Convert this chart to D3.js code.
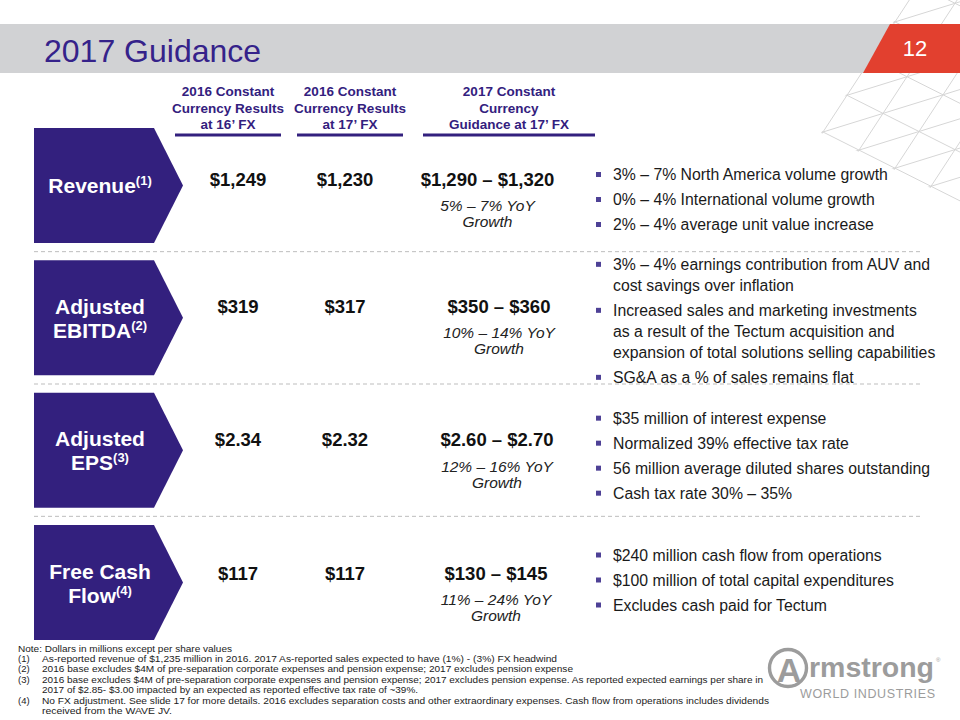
<!DOCTYPE html>
<html><head><meta charset="utf-8">
<script src="https://cdn.jsdelivr.net/npm/d3@7"></script>
<style>
body{margin:0;background:#fff}
svg{display:block}
text{font-family:"Liberation Sans",Arial,Helvetica,sans-serif}
</style>
</head><body>
<svg id="c" width="960" height="720"></svg>
<script>
// ---------- DATA ----------
const title = "2017 Guidance";
const slideNumber = "12";
const metrics = ["Revenue", "Adjusted EBITDA", "Adjusted EPS", "Free Cash Flow"];
const labelLines = [["Revenue"], ["Adjusted", "EBITDA"], ["Adjusted", "EPS"], ["Free Cash", "Flow"]];
const labelRefs = ["(1)", "(2)", "(3)", "(4)"];
const columnKeys = ["at16", "at17", "guide17"];
const columnHeaders = [
  ["2016 Constant", "Currency Results", "at 16’ FX"],
  ["2016 Constant", "Currency Results", "at 17’ FX"],
  ["2017 Constant", "Currency", "Guidance at 17’ FX"]
];
const results2016at16FX = ["$1,249", "$319", "$2.34", "$117"];
const results2016at17FX = ["$1,230", "$317", "$2.32", "$117"];
const guidanceLow = ["$1,290", "$350", "$2.60", "$130"];
const guidanceHigh = ["$1,320", "$360", "$2.70", "$145"];
const growthLow = ["5%", "10%", "12%", "11%"];
const growthHigh = ["7%", "14%", "16%", "24%"];
const bullets = [
  [["3% – 7% North America volume growth"],
   ["0% – 4% International volume growth"],
   ["2% – 4% average unit value increase"]],
  [["3% – 4% earnings contribution from AUV and", "cost savings over inflation"],
   ["Increased sales and marketing investments", "as a result of the Tectum acquisition and", "expansion of total solutions selling capabilities"],
   ["SG&A as a % of sales remains flat"]],
  [["$35 million of interest expense"],
   ["Normalized 39% effective tax rate"],
   ["56 million average diluted shares outstanding"],
   ["Cash tax rate 30% – 35%"]],
  [["$240 million cash flow from operations"],
   ["$100 million of total capital expenditures"],
   ["Excludes cash paid for Tectum"]]
];
const noteText = "Note: Dollars in millions except per share values";
const footnoteNums = ["(1)", "(2)", "(3)", "", "(4)", ""];
const footnoteLines = [
  "As-reported revenue of $1,235 million in 2016. 2017 As-reported sales expected to have (1%) - (3%) FX headwind",
  "2016 base excludes $4M of pre-separation corporate expenses and pension expense; 2017 excludes pension expense",
  "2016 base excludes $4M of pre-separation corporate expenses and pension expense; 2017 excludes pension expense. As reported expected earnings per share in",
  "2017 of $2.85- $3.00 impacted by an expected as reported effective tax rate of ~39%.",
  "No FX adjustment. See slide 17 for more details. 2016 excludes separation costs and other extraordinary expenses. Cash flow from operations includes dividends",
  "received from the WAVE JV."
];
const logoWord = "rmstrong";
const logoSub = "WORLD INDUSTRIES";

// ---------- LAYOUT ----------
const PURPLE = "#33207E";
const TITLE_PURPLE = "#35228A";
const svg = d3.select("#c");
const defs = svg.append("defs");

// decorative lattice (top-right)
defs.append("clipPath").attr("id", "lc").append("polygon")
  .attr("points", "821,133 909,-2 962,-2 962,204");
const lat = svg.append("g").attr("clip-path", "url(#lc)")
  .attr("stroke", "#d6d6d6").attr("stroke-width", 1).attr("fill", "none");
const P0 = [823, 132], u = [60, -18.6], v = [24, -36.7], w = [u[0] - v[0], u[1] - v[1]];
const fam = [];
d3.range(-8, 9).forEach(k => {
  fam.push({p: [P0[0] + k * v[0], P0[1] + k * v[1]], d: u});
  fam.push({p: [P0[0] + k * u[0], P0[1] + k * u[1]], d: v});
  fam.push({p: [P0[0] + k * u[0], P0[1] + k * u[1]], d: w});
});
lat.selectAll("line").data(fam).join("line")
  .attr("x1", f => f.p[0] - f.d[0] * 12).attr("y1", f => f.p[1] - f.d[1] * 12)
  .attr("x2", f => f.p[0] + f.d[0] * 12).attr("y2", f => f.p[1] + f.d[1] * 12);

// title band
svg.append("rect").attr("x", 0).attr("y", 24).attr("width", 900).attr("height", 49).attr("fill", "#D1D2D4");
svg.append("polygon").attr("points", "890,24 960,24 960,73 863,73").attr("fill", "#E2402F");
svg.append("text").attr("x", 915).attr("y", 56).attr("text-anchor", "middle")
  .attr("font-size", 22).attr("fill", "#fff").text(slideNumber);
svg.append("text").attr("x", 44).attr("y", 62).attr("font-size", 32)
  .attr("fill", TITLE_PURPLE).text(title);

// scales
const y = d3.scaleBand().domain(metrics).range([128, 640]).paddingInner(0.131).paddingOuter(0);
const bw = y.bandwidth();
const gap = y.step() - bw;
const headerX = d3.scaleOrdinal().domain(columnKeys).range([228, 350, 509]);
const headerW = d3.scaleOrdinal().domain(columnKeys).range([106, 106, 172]);
const valueX = d3.scaleOrdinal().domain(columnKeys).range([238, 345, 494]);
const valueShift = [0.5, -5, -4, -3];
const guideShift = [-6.5, 5, 3, 2];
const bulletShift = [14.5, 3.5, 6, -2];

// column headers
columnKeys.forEach((k, i) => {
  const t = svg.append("text").attr("text-anchor", "middle").attr("font-size", 13.5)
    .attr("font-weight", "bold").attr("fill", PURPLE);
  columnHeaders[i].forEach((ln, j) => {
    t.append("tspan").attr("x", headerX(k)).attr("y", 96 + j * 16.7).text(ln);
  });
  svg.append("rect").attr("x", headerX(k) - headerW(k) / 2).attr("y", 133.5)
    .attr("width", headerW(k)).attr("height", 3).attr("fill", PURPLE);
});

// separators
metrics.slice(0, 3).forEach(m => {
  svg.append("line").attr("x1", 34).attr("x2", 922)
    .attr("y1", y(m) + bw + gap / 2).attr("y2", y(m) + bw + gap / 2)
    .attr("stroke", "#BDBDBD").attr("stroke-width", 1).attr("stroke-dasharray", "4,3");
});

// rows
metrics.forEach((m, i) => {
  const top = y(m), cy = top + bw / 2;
  // chevron box
  svg.append("path")
    .attr("d", `M34,${top} L154,${top} L183,${cy} L154,${top + bw} L34,${top + bw} Z`)
    .attr("fill", PURPLE);
  const lines = labelLines[i];
  const t = svg.append("text").attr("text-anchor", "middle").attr("font-size", 21)
    .attr("font-weight", "bold").attr("fill", "#fff");
  lines.forEach((ln, j) => {
    const by = lines.length === 1 ? cy + 7.5 : cy - 4 + j * 24;
    t.append("tspan").attr("x", 100).attr("y", by).text(ln);
    if (j === lines.length - 1) {
      t.append("tspan").attr("font-size", 13).attr("dy", -8).text(labelRefs[i]);
    }
  });
  // values
  const vb = cy + valueShift[i];
  const gx = valueX("guide17") + guideShift[i];
  [results2016at16FX[i], results2016at17FX[i], `${guidanceLow[i]} – ${guidanceHigh[i]}`].forEach((val, c) => {
    svg.append("text").attr("x", c === 2 ? gx : valueX(columnKeys[c])).attr("y", vb)
      .attr("text-anchor", "middle").attr("font-size", 18.5).attr("font-weight", "bold")
      .attr("fill", "#111").text(val);
  });
  const g = svg.append("text").attr("text-anchor", "middle").attr("font-size", 15.5)
    .attr("font-style", "italic").attr("fill", "#222");
  g.append("tspan").attr("x", gx).attr("y", vb + 25.5)
    .text(`${growthLow[i]} – ${growthHigh[i]} YoY`);
  g.append("tspan").attr("x", gx).attr("y", vb + 41.5).text("Growth");

  // bullets
  const items = bullets[i];
  const nLines = d3.sum(items, it => it.length);
  const totalH = (nLines - items.length) * 21 + (items.length - 1) * 25;
  let by = cy + bulletShift[i] - totalH / 2 + 5;
  items.forEach(it => {
    svg.append("rect").attr("x", 596).attr("y", by - 8).attr("width", 5).attr("height", 5)
      .attr("fill", "#4E4196");
    it.forEach((ln, j) => {
      svg.append("text").attr("x", 613).attr("y", by).attr("font-size", 15.8)
        .attr("fill", "#1a1a1a").text(ln);
      if (j < it.length - 1) by += 21;
    });
    by += 25;
  });
});

// footnotes
const fn = svg.append("g").attr("font-size", 9.5).attr("fill", "#222");
fn.append("text").attr("x", 18).attr("y", 651.5).attr("textLength", 214)
  .attr("lengthAdjust", "spacingAndGlyphs").text(noteText);
const fnWidths = [515, 531, 721, 376, 727, 130];
footnoteLines.forEach((ln, i) => {
  const yy = 662 + i * 10.45;
  if (footnoteNums[i]) fn.append("text").attr("x", 18).attr("y", yy).text(footnoteNums[i]);
  fn.append("text").attr("x", 42).attr("y", yy).attr("textLength", fnWidths[i])
    .attr("lengthAdjust", "spacingAndGlyphs").text(ln);
});

// logo
const LOGO = "#9C9C9C";
svg.append("circle").attr("cx", 788).attr("cy", 668).attr("r", 18.5)
  .attr("fill", "none").attr("stroke", LOGO).attr("stroke-width", 3.4);
svg.append("text").attr("x", 789).attr("y", 682).attr("text-anchor", "middle")
  .attr("font-size", 34).attr("font-weight", "bold").attr("fill", LOGO).text("A");
svg.append("text").attr("x", 809).attr("y", 677).attr("font-size", 28.5).attr("font-weight", "bold")
  .attr("fill", LOGO).attr("textLength", 125).attr("lengthAdjust", "spacingAndGlyphs").text(logoWord);
svg.append("text").attr("x", 936).attr("y", 662).attr("font-size", 6).attr("fill", LOGO).text("®");
svg.append("text").attr("x", 800).attr("y", 698).attr("font-size", 12.5).attr("fill", LOGO)
  .attr("textLength", 135).attr("lengthAdjust", "spacing").text(logoSub);
</script>
</body></html>
